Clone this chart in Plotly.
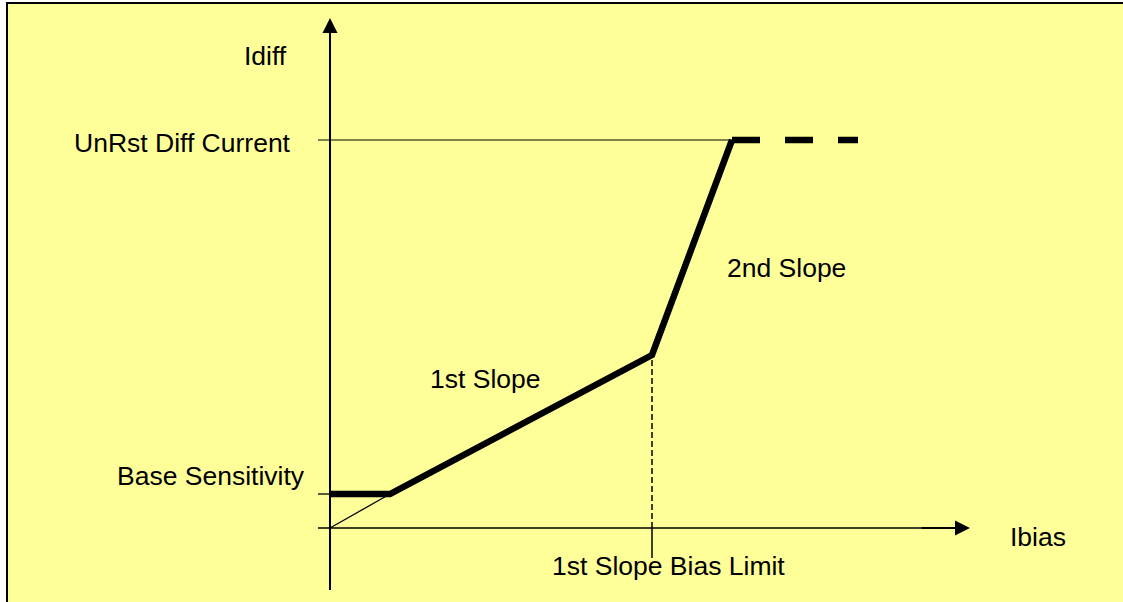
import plotly.graph_objects as go

# ---- data (chart units: Ibias horizontal, Idiff vertical) ----
curve_ibias = [0.0, 0.60, 3.22, 4.02]
curve_idiff = [0.34, 0.34, 1.73, 3.88]
dash_ibias = [4.02, 5.28]
base_sens = 0.34
unrst_level = 3.88
slope1_limit = 3.22
slope1_limit_idiff = 1.73
x_axis_end = 6.40
y_axis_end = 5.10
axis_low_x = -0.12
axis_low_y = -0.62

labels = ["Idiff", "UnRst Diff Current", "Base Sensitivity", "1st Slope",
          "2nd Slope", "Ibias", "1st Slope Bias Limit"]
label_x = [-0.65, -0.37, -0.23, 1.55, 4.56, 7.08, 3.38]
label_y = [4.72, 3.85, 0.52, 1.49, 2.60, -0.09, -0.38]
label_anchor = ["center", "right", "right", "center", "center", "center", "center"]

W, H = 1123, 602
FONT = "Liberation Sans, Arial, sans-serif"

fig = go.Figure()

# thin construction lines
fig.add_trace(go.Scatter(x=[0, curve_ibias[1]], y=[0, curve_idiff[1]], mode="lines",
                         line=dict(color="black", width=1.3), hoverinfo="skip"))
fig.add_trace(go.Scatter(x=[axis_low_x, dash_ibias[0]], y=[unrst_level, unrst_level], mode="lines",
                         line=dict(color="black", width=1), hoverinfo="skip"))
fig.add_trace(go.Scatter(x=[axis_low_x, 0], y=[base_sens, base_sens], mode="lines",
                         line=dict(color="black", width=1.3), hoverinfo="skip"))
fig.add_trace(go.Scatter(x=[slope1_limit, slope1_limit], y=[0, slope1_limit_idiff], mode="lines",
                         line=dict(color="black", width=1.5, dash="6px,3px"), hoverinfo="skip"))
fig.add_trace(go.Scatter(x=[slope1_limit, slope1_limit], y=[-0.30, 0], mode="lines",
                         line=dict(color="black", width=1.5), hoverinfo="skip"))
# axes lines
fig.add_trace(go.Scatter(x=[0, 0], y=[axis_low_y, y_axis_end - 0.1], mode="lines",
                         line=dict(color="black", width=2), hoverinfo="skip"))
fig.add_trace(go.Scatter(x=[axis_low_x, x_axis_end - 0.1], y=[0, 0], mode="lines",
                         line=dict(color="black", width=1.5), hoverinfo="skip"))

# characteristic
fig.add_trace(go.Scatter(x=curve_ibias, y=curve_idiff, mode="lines",
                         line=dict(color="black", width=6.5), hoverinfo="skip"))
fig.add_trace(go.Scatter(x=dash_ibias, y=[unrst_level, unrst_level], mode="lines",
                         line=dict(color="black", width=6.5, dash="28px,25px"), hoverinfo="skip"))

annotations = []
# arrow heads
annotations.append(dict(x=0, y=y_axis_end, ax=0, ay=y_axis_end - 0.5, xref="x", yref="y",
                        axref="x", ayref="y", text="", showarrow=True, arrowhead=2,
                        arrowsize=1.5, arrowwidth=2, arrowcolor="black"))
annotations.append(dict(x=x_axis_end, y=0, ax=x_axis_end - 0.5, ay=0, xref="x", yref="y",
                        axref="x", ayref="y", text="", showarrow=True, arrowhead=2,
                        arrowsize=1.5, arrowwidth=2, arrowcolor="black"))
for t, x, y, a in zip(labels, label_x, label_y, label_anchor):
    annotations.append(dict(x=x, y=y, xref="x", yref="y", text=t, showarrow=False,
                            xanchor=a, yanchor="middle",
                            font=dict(family=FONT, size=26.5, color="black")))

shapes = [
    dict(type="rect", xref="paper", yref="paper", x0=7 / W, x1=1.05, y0=-0.05, y1=1 - 3 / H,
         fillcolor="#FFFF99", line=dict(color="black", width=2), layer="below"),
]

fig.update_layout(
    width=W, height=H, margin=dict(l=0, r=0, t=0, b=0),
    paper_bgcolor="white", plot_bgcolor="rgba(0,0,0,0)",
    showlegend=False, shapes=shapes, annotations=annotations,
    xaxis=dict(range=[-3.30, 7.93], visible=False, fixedrange=True),
    yaxis=dict(range=[-0.74, 5.28], visible=False, fixedrange=True),
)

fig.write_html("out.html", config={"displayModeBar": False},
               post_script="document.body.style.margin='0';")
